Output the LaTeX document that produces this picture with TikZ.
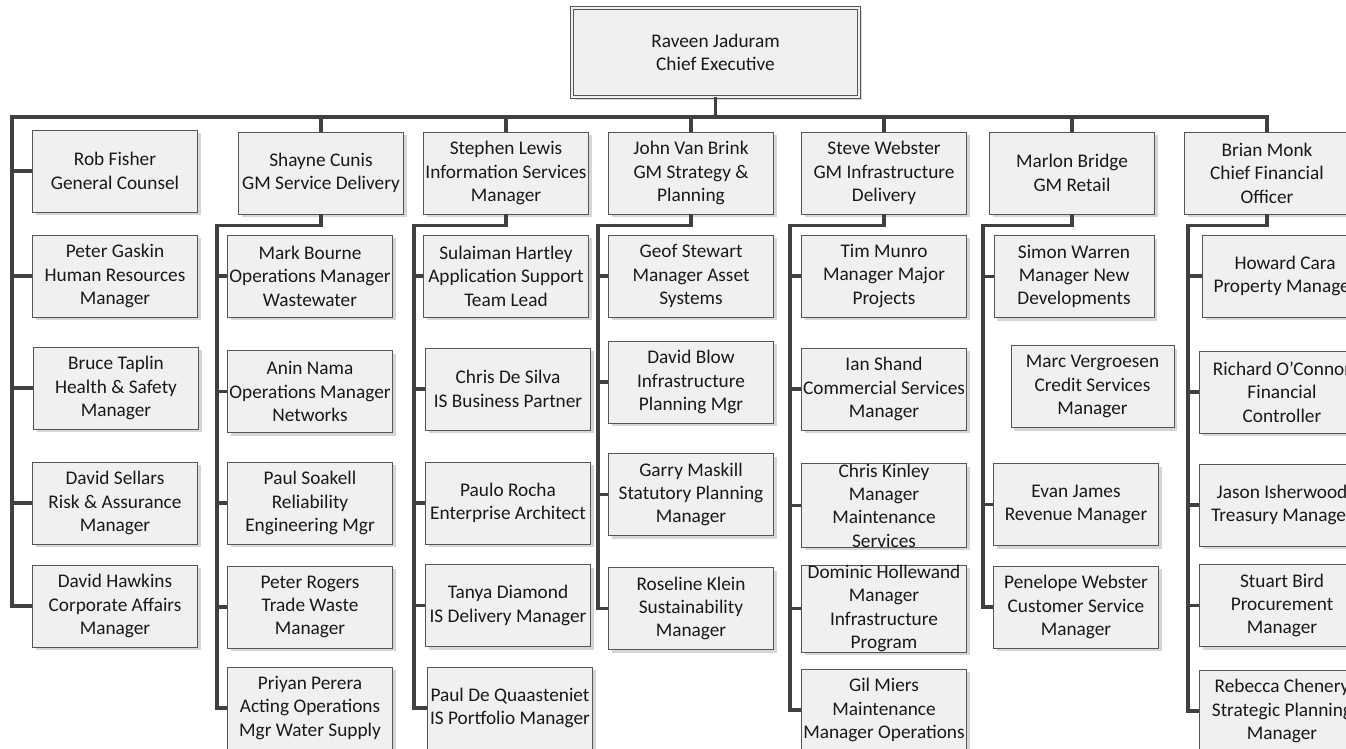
\documentclass[tikz,border=0pt]{standalone}
\usepackage{fontspec}
\setmainfont{Carlito}
\usetikzlibrary{shadows}
\definecolor{boxfill}{RGB}{240,240,240}
\definecolor{boxline}{RGB}{85,85,85}
\definecolor{linkgray}{RGB}{64,64,64}
\newcommand\personfont{\fontsize{19.3}{23.4}\selectfont}

\begin{document}
\begin{tikzpicture}[
    x=1pt, y=-1pt,
    person/.style={draw=boxline, fill=boxfill, line width=0.9pt, minimum width=165, minimum height=82,
        inner sep=0pt, align=center, font=\personfont, text=black!90,
        drop shadow={shadow xshift=3pt, shadow yshift=-3pt, fill=black!16, opacity=1}},
    chief/.style={person, minimum width=287, minimum height=89, double=boxfill, double distance=2.2pt},
    link/.style={draw=linkgray, line width=3.1pt}
]
\useasboundingbox (0,0) rectangle (1346,749);

% chief executive and direct reports
\node[chief] (ceo) at (715.5,52.5) {Raveen Jaduram\\Chief Executive};
\node[person] (shayne) at (321,173) {Shayne Cunis\\GM Service Delivery};
\node[person] (lewis) at (506,173) {Stephen Lewis\\Information Services\\Manager};
\node[person] (vanbrink) at (691,173) {John Van Brink\\GM Strategy \&\\Planning};
\node[person] (webster) at (884,173) {Steve Webster\\GM Infrastructure\\Delivery};
\node[person] (bridge) at (1072,173) {Marlon Bridge\\GM Retail};
\node[person] (monk) at (1267,173) {Brian Monk\\Chief Financial\\Officer};

% staff
\node[person] (fisher) at (115,171) {Rob Fisher\\General Counsel};
\node[person] (gaskin) at (115,276) {Peter Gaskin\\Human Resources\\Manager};
\node[person] (taplin) at (116,388) {Bruce Taplin\\Health \& Safety\\Manager};
\node[person] (sellars) at (115,503) {David Sellars\\Risk \& Assurance\\Manager};
\node[person] (hawkins) at (115,606) {David Hawkins\\Corporate Affairs\\Manager};

% service delivery
\node[person] (bourne) at (310,276) {Mark Bourne\\Operations Manager\\Wastewater};
\node[person] (nama) at (310,391.5) {Anin Nama\\Operations Manager\\Networks};
\node[person] (soakell) at (310,503) {Paul Soakell\\Reliability\\Engineering Mgr};
\node[person] (rogers) at (310,607) {Peter Rogers\\Trade Waste\\Manager};
\node[person] (perera) at (310,708) {Priyan Perera\\Acting Operations\\Mgr Water Supply};

% information services
\node[person] (hartley) at (506,276) {Sulaiman Hartley\\Application Support\\Team Lead};
\node[person] (desilva) at (508,389) {Chris De Silva\\IS Business Partner};
\node[person] (rocha) at (508,503) {Paulo Rocha\\Enterprise Architect};
\node[person] (diamond) at (508,605.5) {Tanya Diamond\\IS Delivery Manager};
\node[person] (quaasteniet) at (510,708) {Paul De Quaasteniet\\IS Portfolio Manager};

% strategy and planning
\node[person] (stewart) at (691,276) {Geof Stewart\\Manager Asset\\Systems};
\node[person] (blow) at (691,382) {David Blow\\Infrastructure\\Planning Mgr};
\node[person] (maskill) at (691,494.5) {Garry Maskill\\Statutory Planning\\Manager};
\node[person] (klein) at (691,608.5) {Roseline Klein\\Sustainability\\Manager};

% infrastructure delivery
\node[person] (munro) at (884,276) {Tim Munro\\Manager Major\\Projects};
\node[person] (shand) at (884,389) {Ian Shand\\Commercial Services\\Manager};
\node[person] (kinley) at (884,505.5) {Chris Kinley\\Manager\\Maintenance\\Services};
\node[person] (hollewand) at (884,608.5) {Dominic Hollewand\\Manager\\Infrastructure\\Program};
\node[person] (miers) at (884,710) {Gil Miers\\Maintenance\\Manager Operations};

% retail
\node[person, minimum width=160] (warren) at (1074,276.5) {Simon Warren\\Manager New\\Developments};
\node[person, minimum width=163] (vergroesen) at (1092.5,386.5) {Marc Vergroesen\\Credit Services\\Manager};
\node[person] (james) at (1076,504.5) {Evan James\\Revenue Manager};
\node[person] (pwebster) at (1076,607) {Penelope Webster\\Customer Service\\Manager};

% finance
\node[person] (cara) at (1285,276) {Howard Cara\\Property Manager};
\node[person] (oconnor) at (1282,392) {Richard O'Connor\\Financial\\Controller};
\node[person] (isherwood) at (1282,505) {Jason Isherwood\\Treasury Manager};
\node[person] (bird) at (1282,605.5) {Stuart Bird\\Procurement\\Manager};
\node[person] (chenery) at (1282,711) {Rebecca Chenery\\Strategic Planning\\Manager};

% bus and staff line
\draw[link] (monk.north) |- (12,117) |- (hawkins.west);
\draw[link] (ceo.south) -- (ceo.south |- 0,117);
\foreach \n in {shayne,lewis,vanbrink,webster,bridge}
    \draw[link] (\n.north) -- (\n.north |- 0,117);
\foreach \n in {fisher,gaskin,taplin,sellars}
    \draw[link] (\n.west) -- (\n.west -| 12,0);

% department trunks
\foreach \head/\last/\tx in {shayne/perera/217, lewis/quaasteniet/414, vanbrink/klein/598,
        webster/miers/790, bridge/pwebster/983, monk/chenery/1188}
    \draw[link] (\head.south) -- ++(0,11) -| (\tx,0 |- \last.west) -- (\last.west);
\foreach \n/\tx in {bourne/217, nama/217, soakell/217, rogers/217,
        hartley/414, desilva/414, rocha/414, diamond/414,
        stewart/598, blow/598, maskill/598,
        munro/790, shand/790, kinley/790, hollewand/790,
        warren/983, james/983,
        cara/1188, oconnor/1188, isherwood/1188, bird/1188}
    \draw[link] (\n.west) -- (\n.west -| \tx,0);
\end{tikzpicture}
\end{document}
